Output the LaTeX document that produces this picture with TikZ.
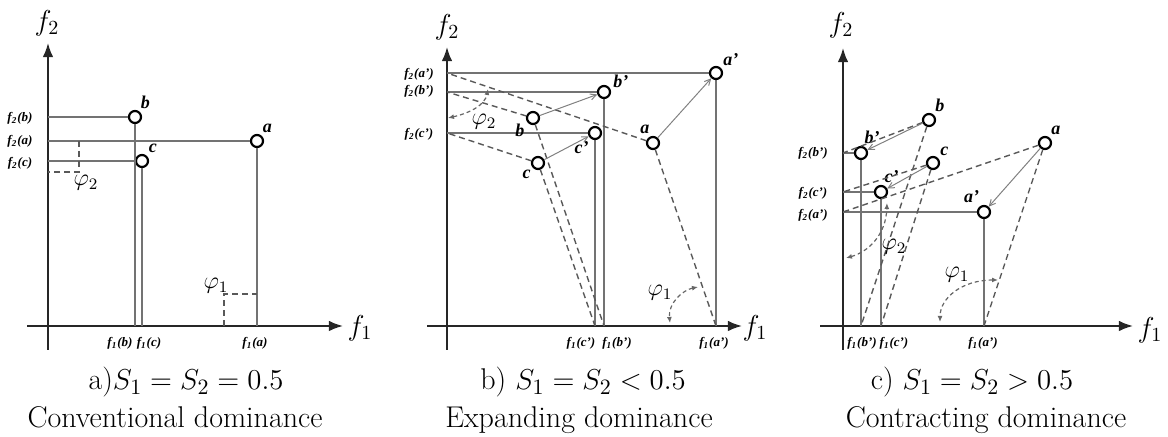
\documentclass[tikz,border=0pt]{standalone}
\usepackage{amsmath,amssymb}
\usepackage{fontspec}
\newfontfamily\tickfont{Liberation Serif}
\usetikzlibrary{arrows.meta}

\begin{document}
\begin{tikzpicture}[>=Latex, x=0.5pt, y=-0.5pt,
  axis/.style={->, line width=0.9pt, black!85},
  guide/.style={line width=0.8pt, black!55},
  proj/.style={dash pattern=on 3pt off 2pt, line width=0.7pt, black!65},
  move/.style={-{Straight Barb[length=3pt,width=3pt]}, line width=0.5pt, black!50},
  angarc/.style={{Latex[length=3pt,width=2.5pt]}-{Latex[length=3pt,width=2.5pt]}, dash pattern=on 2pt off 1.5pt, line width=0.6pt, black!60},
  pt/.style={circle, draw, line width=1.1pt, fill=white, inner sep=0pt, minimum size=6pt},
  ptname/.style={font=\tickfont\bfseries\itshape\fontsize{9}{10}\selectfont, inner sep=1pt},
  tick/.style={font=\tickfont\bfseries\itshape\fontsize{6.5}{7}\selectfont, inner sep=0pt},
  axlbl/.style={font=\fontsize{14}{16}\selectfont},
  anglbl/.style={font=\fontsize{12}{14}\selectfont, inner sep=0pt},
  captext/.style={font=\fontsize{15}{18}\selectfont, anchor=base}]
  \useasboundingbox (0,0) rectangle (1168,437);

  % a) conventional dominance
  \draw[axis] (48,350) -- (48,43);
  \draw[axis] (27,326) -- (343,326);
  \node[axlbl] (pa-f2) at (47,23) {$f_2$};
  \node[axlbl] (pa-f1) at (360,328) {$f_1$};
  \node[pt, label={[ptname]60:b}] (pa-b) at (135,117) {};
  \node[pt, label={[ptname]60:a}] (pa-a) at (257,141) {};
  \node[pt, label={[ptname]50:c}] (pa-c) at (142,161) {};
  \coordinate (pa-yb) at (48,117);
  \coordinate (pa-ya) at (48,141);
  \coordinate (pa-yc) at (48,161);
  \coordinate (pa-xb) at (135,326);
  \coordinate (pa-xc) at (142,326);
  \coordinate (pa-xa) at (257,326);
  \draw[guide] (pa-yb) -- (pa-b);
  \draw[guide] (pa-ya) -- (pa-a);
  \draw[guide] (pa-yc) -- (pa-c);
  \draw[guide] (pa-b) -- (pa-xb);
  \draw[guide] (pa-c) -- (pa-xc);
  \draw[guide] (pa-a) -- (pa-xa);
  \node[tick] (pa-tb) at (20,118) {f\textsubscript{2}(b)};
  \node[tick] (pa-ta) at (20,141) {f\textsubscript{2}(a)};
  \node[tick] (pa-tc) at (20,163) {f\textsubscript{2}(c)};
  \node[tick] (pa-sb) at (120,343) {f\textsubscript{1}(b)};
  \node[tick] (pa-sc) at (149,343) {f\textsubscript{1}(c)};
  \node[tick] (pa-sa) at (255,343) {f\textsubscript{1}(a)};
  \draw[proj] (79,141) -- (79,172) -- (48,172);
  \node[anglbl] (pa-phi2) at (86,183) {$\varphi_2$};
  \draw[proj] (224,326) -- (224,294) -- (257,294);
  \node[anglbl] (pa-phi1) at (216,286) {$\varphi_1$};
  \node[captext] (pa-cap) at (186,390) {a)$S_1=S_2=0.5$};
  \node[captext] (pa-name) at (175,428) {Conventional dominance};

  % b) expanding dominance
  \draw[axis] (447,350) -- (447,47);
  \draw[axis] (427,326) -- (742,326);
  \node[axlbl] (pb-f2) at (447,27) {$f_2$};
  \node[axlbl] (pb-f1) at (755,328) {$f_1$};
  \coordinate (pb-ya) at (447,73);
  \coordinate (pb-yb) at (447,92);
  \coordinate (pb-yc) at (447,133);
  \coordinate (pb-xc) at (595,326);
  \coordinate (pb-xb) at (604,326);
  \coordinate (pb-xa) at (716,326);
  \draw[guide] (pb-ya) -- (716,73);
  \draw[guide] (pb-yb) -- (604,92);
  \draw[guide] (pb-yc) -- (595,133);
  \draw[guide] (716,73) -- (pb-xa);
  \draw[guide] (604,92) -- (pb-xb);
  \draw[guide] (595,133) -- (pb-xc);
  \node[pt, label={[ptname]45:a’}] (pb-a1) at (716,73) {};
  \node[pt, label={[ptname]15:b’}] (pb-b1) at (604,92) {};
  \node[pt, label={[ptname]235:c’}] (pb-c1) at (595,133) {};
  \node[pt, label={[ptname]210:b}] (pb-b) at (533,118) {};
  \node[pt, label={[ptname]100:a}] (pb-a) at (653,143) {};
  \node[pt, label={[ptname]225:c}] (pb-c) at (538,163) {};
  \draw[proj] (pb-a) -- (pb-ya);
  \draw[proj] (pb-b) -- (pb-yb);
  \draw[proj] (pb-c) -- (pb-yc);
  \draw[proj] (pb-a) -- (pb-xa);
  \draw[proj] (pb-b) -- (pb-xb);
  \draw[proj] (pb-c) -- (pb-xc);
  \draw[move] (pb-a) -- (pb-a1);
  \draw[move] (pb-b) -- (pb-b1);
  \draw[move] (pb-c) -- (pb-c1);
  \node[tick] (pb-ta) at (419,74) {f\textsubscript{2}(a’)};
  \node[tick] (pb-tb) at (419,91) {f\textsubscript{2}(b’)};
  \node[tick] (pb-tc) at (419,134) {f\textsubscript{2}(c’)};
  \node[tick] (pb-sc) at (581,343) {f\textsubscript{1}(c’)};
  \node[tick] (pb-sb) at (617,343) {f\textsubscript{1}(b’)};
  \node[tick] (pb-sa) at (714,343) {f\textsubscript{1}(a’)};
  \draw[angarc] (448,118) .. controls (470,113) and (485,105) .. (488,89);
  \node[anglbl] (pb-phi2) at (484,122) {$\varphi_2$};
  \draw[angarc] (698,287) .. controls (683,290) and (668,303) .. (670,323);
  \node[anglbl] (pb-phi1) at (660,293) {$\varphi_1$};
  \node[captext] (pb-cap) at (583,390) {b) $S_1=S_2<0.5$};
  \node[captext] (pb-name) at (579,428) {Expanding dominance};

  % c) contracting dominance
  \draw[axis] (843,350) -- (843,48);
  \draw[axis] (820,326) -- (1133,326);
  \node[axlbl] (pc-f2) at (841,25) {$f_2$};
  \node[axlbl] (pc-f1) at (1150,330) {$f_1$};
  \coordinate (pc-yb) at (843,153);
  \coordinate (pc-yc) at (843,192);
  \coordinate (pc-ya) at (843,212);
  \coordinate (pc-xb) at (861,326);
  \coordinate (pc-xc) at (881,326);
  \coordinate (pc-xa) at (984,326);
  \draw[guide] (pc-yb) -- (861,153);
  \draw[guide] (pc-yc) -- (881,192);
  \draw[guide] (pc-ya) -- (984,212);
  \draw[guide] (861,153) -- (pc-xb);
  \draw[guide] (881,192) -- (pc-xc);
  \draw[guide] (984,212) -- (pc-xa);
  \node[pt, label={[ptname]80:b’}] (pc-b1) at (861,153) {};
  \node[pt, label={[ptname]80:c’}] (pc-c1) at (881,192) {};
  \node[pt, label={[ptname]110:a’}] (pc-a1) at (984,212) {};
  \node[pt, label={[ptname]55:b}] (pc-b) at (929,120) {};
  \node[pt, label={[ptname]55:a}] (pc-a) at (1045,143) {};
  \node[pt, label={[ptname]45:c}] (pc-c) at (933,163) {};
  \draw[proj] (pc-a) -- (pc-ya);
  \draw[proj] (pc-b) -- (pc-yb);
  \draw[proj] (pc-c) -- (pc-yc);
  \draw[proj] (pc-a) -- (pc-xa);
  \draw[proj] (pc-b) -- (pc-xb);
  \draw[proj] (pc-c) -- (pc-xc);
  \draw[move] (pc-a) -- (pc-a1);
  \draw[move] (pc-b) -- (pc-b1);
  \draw[move] (pc-c) -- (pc-c1);
  \node[tick] (pc-tb) at (813,153) {f\textsubscript{2}(b’)};
  \node[tick] (pc-tc) at (813,193) {f\textsubscript{2}(c’)};
  \node[tick] (pc-ta) at (813,215) {f\textsubscript{2}(a’)};
  \node[tick] (pc-sb) at (862,343) {f\textsubscript{1}(b’)};
  \node[tick] (pc-sc) at (894,343) {f\textsubscript{1}(c’)};
  \node[tick] (pc-sa) at (983,343) {f\textsubscript{1}(a’)};
  \draw[angarc] (846,258) .. controls (868,252) and (886,235) .. (887,203);
  \node[anglbl] (pc-phi2) at (894,247) {$\varphi_2$};
  \draw[angarc] (998,280) .. controls (962,280) and (940,298) .. (940,322);
  \node[anglbl] (pc-phi1) at (957,275) {$\varphi_1$};
  \node[captext] (pc-cap) at (972,390) {c) $S_1=S_2>0.5$};
  \node[captext] (pc-name) at (986,428) {Contracting dominance};
\end{tikzpicture}
\end{document}
